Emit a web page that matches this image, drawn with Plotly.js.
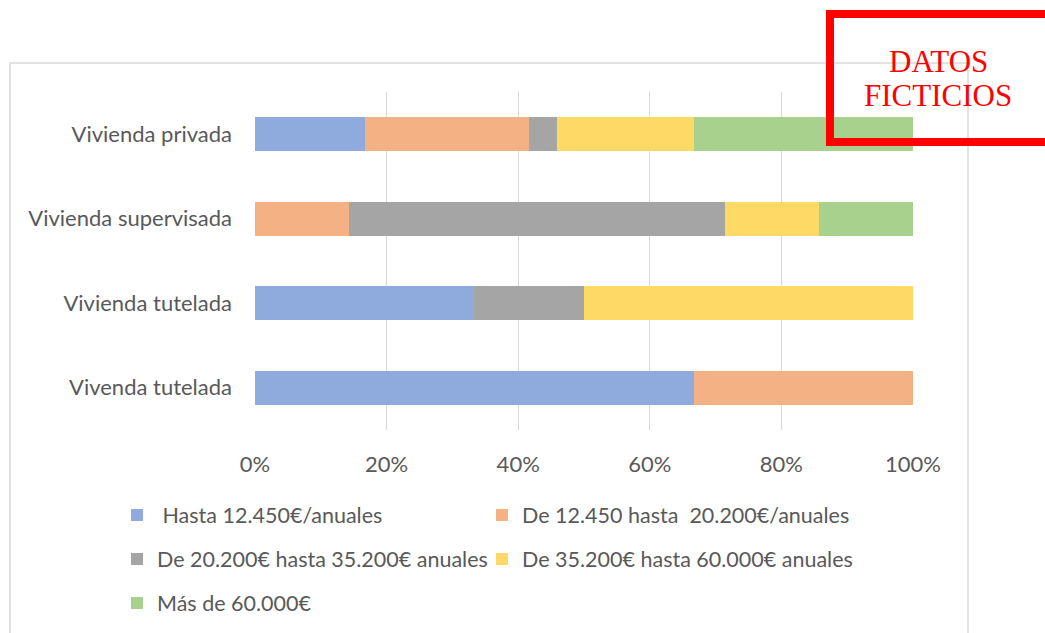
<!DOCTYPE html>
<html>
<head>
<meta charset="utf-8">
<script src="https://cdn.plot.ly/plotly-3.0.1.min.js"></script>
<style>html,body{margin:0;padding:0;background:#fff;}#chart{width:1045px;height:633px;}</style>
</head>
<body>
<div id="chart"></div>
<script>
// Categories, top to bottom
const categories = ['Vivienda privada', 'Vivienda supervisada', 'Vivienda tutelada', 'Vivenda tutelada'];
// Series names (legend labels)
const seriesNames = [
  ' Hasta 12.450€/anuales',
  'De 12.450 hasta  20.200€/anuales',
  'De 20.200€ hasta 35.200€ anuales',
  'De 35.200€ hasta 60.000€ anuales',
  'Más de 60.000€'
];
// Shares (%) per category
const hasta12450 = [16.7, 0, 33.3, 66.7];
const de12450a20200 = [25.0, 14.3, 0, 33.3];
const de20200a35200 = [4.2, 57.1, 16.7, 0];
const de35200a60000 = [20.8, 14.3, 50.0, 0];
const mas60000 = [33.3, 14.3, 0, 0];
// X axis ticks
const xTickVals = [0, 20, 40, 60, 80, 100];
const xTickLabels = ['0%', '20%', '40%', '60%', '80%', '100%'];

const seriesValues = [hasta12450, de12450a20200, de20200a35200, de35200a60000, mas60000];
const colors = ['#8FAADC', '#F4B183', '#A5A5A5', '#FFD966', '#A9D18E'];
const legendIds = ['legend', 'legend2', 'legend3', 'legend4', 'legend5'];

const traces = seriesValues.map((vals, i) => ({
  type: 'bar',
  orientation: 'h',
  name: seriesNames[i],
  x: vals,
  y: categories,
  marker: {color: colors[i], line: {width: 0}},
  legend: legendIds[i],
  showlegend: true,
  hoverinfo: 'x+y+name'
}));

const textFont = {family: 'Lato, "Open Sans", sans-serif', size: 22, color: '#595959'};
const legendFont = {family: 'Lato, "Open Sans", sans-serif', size: 21.5, color: '#595959'};

// plot area in px
const L = 255, R = 913, T = 92, B = 430;
const W = R - L, H = B - T;
const px = v => (v - L) / W;
const py = v => (B - v) / H;

const legendBase = {
  orientation: 'h', xref: 'container', yref: 'container',
  xanchor: 'left', yanchor: 'middle',
  font: legendFont, bgcolor: 'rgba(0,0,0,0)', borderwidth: 0, visible: true
};
const col1 = 117, col2 = 482;
const row1 = 515, row2 = 559, row3 = 603;
const lg = (cx, ry) => Object.assign({}, legendBase, {x: cx / 1045, y: 1 - ry / 633});

const layout = {
  width: 1045, height: 633,
  margin: {l: L, r: 1045 - R, t: T, b: 633 - B, pad: 0},
  paper_bgcolor: '#ffffff', plot_bgcolor: '#ffffff',
  showlegend: true,
  barmode: 'stack', barnorm: 'percent', bargap: 0.6,
  font: textFont,
  xaxis: {
    range: [0, 100], tickmode: 'array', tickvals: xTickVals, ticktext: xTickLabels,
    showgrid: true, gridcolor: '#D9D9D9', gridwidth: 1,
    zeroline: false, showline: false, ticks: '',
    ticklabelstandoff: 19, tickfont: textFont, fixedrange: true
  },
  yaxis: {
    type: 'category', autorange: 'reversed',
    showgrid: false, zeroline: false, showline: false, ticks: '',
    ticklabelstandoff: 22, tickfont: textFont, fixedrange: true
  },
  legend: lg(col1, row1),
  legend2: lg(col2, row1),
  legend3: lg(col1, row2),
  legend4: lg(col2, row2),
  legend5: lg(col1, row3),
  shapes: [
    {type: 'rect', xref: 'paper', yref: 'paper',
     x0: px(10), x1: px(968), y0: py(660), y1: py(63),
     line: {color: '#D9D9D9', width: 1.5}, fillcolor: 'rgba(0,0,0,0)', layer: 'below'},
    {type: 'rect', xref: 'paper', yref: 'paper',
     x0: px(830), x1: px(1080), y0: py(142), y1: py(14),
     line: {color: '#FF0000', width: 8}, fillcolor: 'rgba(0,0,0,0)', layer: 'above'}
  ],
  annotations: [
    {text: 'DATOS', xref: 'paper', yref: 'paper', x: px(938), y: py(61),
     xanchor: 'center', yanchor: 'middle', showarrow: false,
     font: {family: '"Liberation Serif", "Times New Roman", serif', size: 31, color: '#FF0000'}},
    {text: 'FICTICIOS', xref: 'paper', yref: 'paper', x: px(938), y: py(96),
     xanchor: 'center', yanchor: 'middle', showarrow: false,
     font: {family: '"Liberation Serif", "Times New Roman", serif', size: 31, color: '#FF0000'}}
  ]
};

Plotly.newPlot('chart', traces, layout, {displayModeBar: false, staticPlot: true});
</script>
</body>
</html>
